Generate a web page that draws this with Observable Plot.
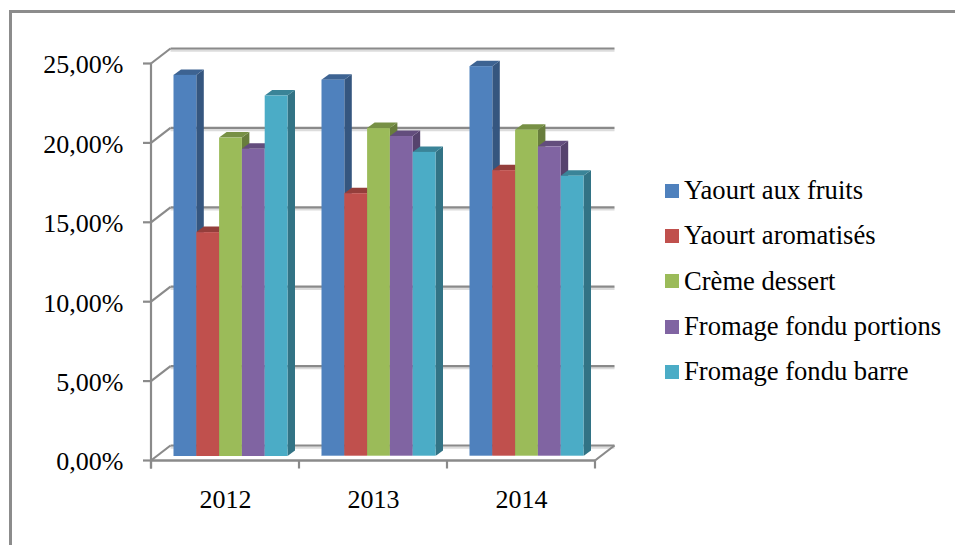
<!DOCTYPE html>
<html lang="fr">
<head>
<meta charset="utf-8">
<script src="https://cdn.jsdelivr.net/npm/d3@7"></script>
<script src="https://cdn.jsdelivr.net/npm/@observablehq/plot@0.6"></script>
<style>
  html, body { margin: 0; padding: 0; background: #fff; overflow: hidden; }
  #page { position: relative; width: 955px; height: 545px; font-family: "Liberation Serif", serif; color: #000; }
  #border { position: absolute; left: 9px; top: 10px; right: 0; bottom: 0; border-left: 3px solid #8c8c8c; border-top: 3px solid #8c8c8c; }
  #chart { position: absolute; left: 0; top: 0; }
  #legend { position: absolute; left: 665px; top: 168px; }
  .row { display: flex; align-items: center; height: 45.3px; font-size: 26.6px; white-space: nowrap; }
  .sw { width: 14px; height: 14px; margin-right: 5px; flex: none; }
</style>
</head>
<body>
<div id="page">
  <div id="border"></div>
  <div id="chart"></div>
  <div id="legend"></div>
</div>
<script>
const years = ["2012", "2013", "2014"];
const seriesNames = ["Yaourt aux fruits", "Yaourt aromatisés", "Crème dessert", "Fromage fondu portions", "Fromage fondu barre"];
const seriesColors = ["#4F81BD", "#C0504D", "#9BBB59", "#8064A2", "#4BACC6"];
const yaourtFruits = [24.0, 23.7, 24.55];
const yaourtAromatises = [14.1, 16.55, 18.0];
const cremeDessert = [20.05, 20.65, 20.55];
const fromagePortions = [19.35, 20.15, 19.5];
const fromageBarre = [22.7, 19.15, 17.65];
const yTicks = [0, 5, 10, 15, 20, 25];

const allValues = [yaourtFruits, yaourtAromatises, cremeDessert, fromagePortions, fromageBarre];

const lineColor = "#8a8a8a";
const wall = {dx: 19.5, dy: -15};
const depth = {dx: 7.5, dy: -5.5};
const groupLead = 22.5, barWidth = 22.8, groupStep = 148;

const shade = (c, k) => {
  const {r, g, b} = d3.rgb(c);
  return d3.rgb(r * k, g * k, b * k).formatHex();
};

function extrude(index, scales, values, dims, ctx, next) {
  const g = next(index, scales, values, dims, ctx);
  for (const rect of Array.from(g.querySelectorAll("rect"))) {
    const x = +rect.getAttribute("x"), y = +rect.getAttribute("y");
    const w = +rect.getAttribute("width"), h = +rect.getAttribute("height");
    const fill = rect.getAttribute("fill") || g.getAttribute("fill");
    const poly = (pts, color) => {
      const p = document.createElementNS("http://www.w3.org/2000/svg", "polygon");
      p.setAttribute("points", pts.map(q => q.join(",")).join(" "));
      p.setAttribute("fill", color);
      g.insertBefore(p, rect);
    };
    poly([[x + w, y], [x + w + depth.dx, y + depth.dy], [x + w + depth.dx, y + h + depth.dy], [x + w, y + h]], shade(fill, 0.67));
    poly([[x, y], [x + depth.dx, y + depth.dy], [x + w + depth.dx, y + depth.dy], [x + w, y]], shade(fill, 0.77));
  }
  return g;
}

function wallLines(index, scales, values, dims, ctx, next) {
  const g = next(index, scales, values, dims, ctx);
  const sel = d3.select(g);
  const left = dims.marginLeft, right = dims.width - dims.marginRight;
  const line = (x1, y1, x2, y2) => sel.append("line")
    .attr("x1", x1).attr("y1", y1).attr("x2", x2).attr("y2", y2)
    .attr("stroke", lineColor).attr("stroke-width", 2.2).attr("stroke-opacity", 1);
  for (const t of yTicks) line(left, scales.y(t), left + wall.dx, scales.y(t) + wall.dy);
  const y0 = scales.y(0);
  line(right, y0, right + wall.dx, y0 + wall.dy);
  [...years.map(d => scales.x(d)), right].forEach(x => line(x, y0, x, y0 + 8));
  line(left, scales.y(25), left, y0 + 8);
  return g;
}

const seriesMarks = seriesNames.map((name, s) =>
  Plot.barY(years.map((year, i) => ({year, value: allValues[s][i]})), {
    x: "year", y: "value", fill: seriesColors[s], dy: -4,
    insetLeft: groupLead + barWidth * s,
    insetRight: groupStep - groupLead - barWidth * (s + 1),
    render: extrude
  }));

const yLabel = d => d.toFixed(2).replace(".", ",") + "%";

const chart = Plot.plot({
  width: 955,
  height: 545,
  marginLeft: 151,
  marginRight: 360,
  marginTop: 63,
  marginBottom: 85,
  style: {fontFamily: "Liberation Serif", background: "transparent", color: "#000", overflow: "visible"},
  y: {domain: [0, 25]},
  x: {domain: years, padding: 0, round: false},
  marks: [
    Plot.ruleY(yTicks, {y: d => d, dx: wall.dx, dy: wall.dy + 2, stroke: "#dcdcdc", strokeWidth: 2.5}),
    Plot.ruleY(yTicks, {y: d => d, dx: wall.dx, dy: wall.dy, stroke: lineColor, strokeWidth: 2.2}),
    ...seriesMarks,
    Plot.ruleY([0], {dy: -4.7, stroke: "#fff", strokeOpacity: 0.3, strokeWidth: 1.6, insetLeft: groupStep + groupLead, insetRight: 11}),
    Plot.ruleY([0], {stroke: lineColor, strokeWidth: 2.5}),
    Plot.ruleY(yTicks, {y: d => d, strokeOpacity: 0, render: wallLines}),
    Plot.axisY(yTicks, {label: null, anchor: "left", tickSize: 8, stroke: lineColor, strokeWidth: 2.2, text: null}),
    Plot.axisY(yTicks, {label: null, anchor: "left", tickSize: 0, tickPadding: 28, dy: 1.5, fill: "#000", fontSize: 26, tickFormat: yLabel}),
    Plot.axisX({label: null, anchor: "bottom", tickSize: 0, tickPadding: 29, fontSize: 26, fill: "#000"})
  ]
});
document.getElementById("chart").appendChild(chart);

const legend = d3.select("#legend");
seriesNames.forEach((name, i) => {
  const row = legend.append("div").attr("class", "row");
  row.append("div").attr("class", "sw").style("background", seriesColors[i]);
  row.append("span").text(name);
});
</script>
</body>
</html>
